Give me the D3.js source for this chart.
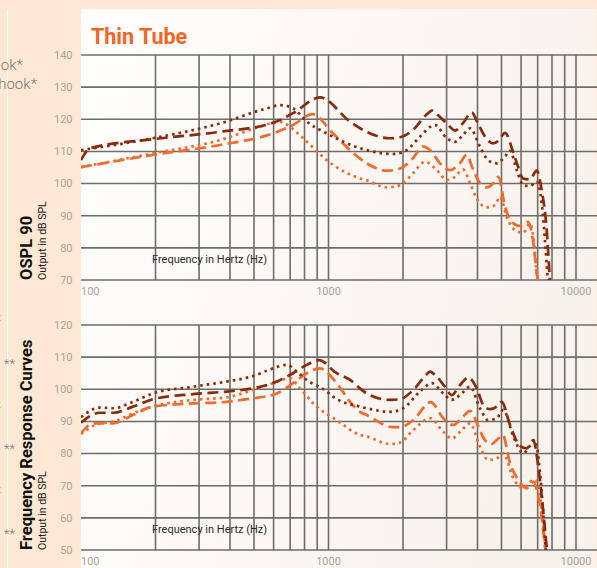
<!DOCTYPE html>
<html><head><meta charset="utf-8">
<script src="https://cdn.jsdelivr.net/npm/d3@7"></script>
<style>html,body{margin:0;padding:0;background:#fde8d3;overflow:hidden}</style>
</head><body>
<svg id="c" width="597" height="568"></svg>
<script>
// ---------- DATA ----------
const title = "Thin Tube";
const xTickLabels = [100, 1000, 10000];
const xGridValues = [200,300,400,500,600,700,800,900,1000,2000,3000,4000,5000,6000,7000,8000,9000,10000];
const osplYTicks = [70,80,90,100,110,120,130,140];
const frcYTicks = [50,60,70,80,90,100,110,120];

// OSPL 90 – dark red dashed
const osplDarkDashF = [100,109,195,364,597,719,924,1222,1426,1772,1945,2195,2500,2620,2760,3005,3245,3494,3791,4018,4288,4620,4887,5168,5566,5831,6108,6517,6936,7263,7614,7852];
const osplDarkDashV = [107.3,111,113.8,116.1,118.9,121.9,126.8,119.3,116.1,114.1,114.4,116.7,121.6,122.7,121.4,118.7,116.5,118.8,122.1,118.7,114.6,112.5,113.5,115.8,109.9,105.3,101.6,101.3,104.0,98,85.5,69];
// OSPL 90 – dark red dotted
const osplDarkDotF = [100,195,364,563,637,719,817,984,1340,1426,1822,2069,2341,2694,3005,3245,3494,3731,4093,4410,4786,5168,5411,5761,6124,6517,6936,7263,7700];
const osplDarkDotV = [110.4,114.1,118.7,123.4,124.4,123.4,119.3,115.6,111,110.4,109.2,110.4,114.6,118.2,114.1,113,115.1,117.2,111.5,107.3,106.3,108.4,110.2,104.2,99.5,99.2,100.6,94,69];
// OSPL 90 – orange dashed
const osplOrangeDashF = [100,195,364,597,719,860,1043,1222,1426,1718,1945,2195,2409,2612,2821,3097,3398,3617,3846,4093,4357,4634,4856,5168,5582,5940,6397,6700,6977,7050];
const osplOrangeDashV = [105.1,108.9,112,115.6,118.2,121.6,115.6,110.4,106.3,104,104.7,107.9,111.5,109.9,106.3,104.2,106.3,108.9,104.2,100.1,98.8,100.1,102.1,92.8,87.6,86.8,88.1,82.4,71,69];
// OSPL 90 – orange dotted
const osplOrangeDotF = [100,195,364,529,637,699,767,1043,1340,1426,1718,1945,2195,2454,2737,3005,3245,3494,3731,3970,4357,4710,4932,5248,5670,6124,6517,6721,6977,7050];
const osplOrangeDotV = [105.1,109.4,113.5,117.7,119.3,117.7,115,105.8,101.6,101,98.8,99.5,103.2,106.8,104.2,101.1,102.1,104.4,100.1,95.4,92.6,93.3,95.9,89.7,85.5,84.7,87.6,83.5,71,69];

// Frequency Response – dark red dashed
const frcDarkDashF = [100,119,135,162,195,284,388,495,618,719,817,915,1079,1222,1340,1426,1772,1945,2200,2480,2570,2680,2956,3146,3398,3671,3970,4222,4494,4786,5010,5411,5940,6320,6721,7042,7340,7650];
const frcDarkDashV = [89.6,92.7,92.7,94.6,96.9,98.5,99.3,100.3,102.4,105,107.6,109.1,105,102.9,100.3,98.7,96.7,96.9,99.8,104.5,105.5,104.6,100.8,98.2,101.3,103.7,100.3,95.1,93.8,94.6,96.1,88.9,82.4,81.6,84.2,75.9,63.5,49];
// Frequency Response – dark red dotted
const frcDarkDotF = [100,119,135,162,195,284,388,495,597,678,744,817,984,1043,1340,1426,1772,2005,2341,2612,2909,3146,3453,3731,4093,4422,4786,5087,5582,6124,6517,6830,7153,7560];
const frcDarkDotV = [91.3,94.3,94.1,96.1,98.7,100.8,102.4,104.1,106.5,107.6,105.5,102.9,99.3,97.7,94.6,94.1,93,94.1,99.3,101.9,98.7,96.7,98.7,100.8,94.1,90.4,91,93.6,85.3,80.1,82.4,84.2,73.9,49];
// Frequency Response – orange dashed
const frcOrangeDashF = [100,112,135,162,195,284,388,495,618,719,817,920,1079,1222,1340,1426,1827,1945,2200,2590,2909,3193,3453,3731,4030,4288,4564,4856,5057,5411,5848,6320,6721,7042,7550];
const frcOrangeDashV = [86.3,89.4,89.4,92,94.6,95.6,96.1,97.2,98.7,101.9,105,106.5,101.9,96.1,93,92,88.2,88.2,90.4,96,91,88.9,91,93.3,88.4,84.2,83,84.7,85.8,77,71.8,69.2,71.2,66.6,49];
// Frequency Response – orange dotted
const frcOrangeDotF = [100,119,135,162,195,284,388,495,597,699,767,868,1079,1340,1426,1772,1945,2200,2571,2909,3146,3453,3731,4093,4422,4786,5087,5582,6124,6517,6830,7153,7550];
const frcOrangeDotV = [86.1,89.4,89.9,92.5,94.6,96.7,97.5,99.8,101.9,103.4,100.3,95.6,90.4,85.8,85.3,83,83.4,87.3,91,86.8,84.7,87.3,89.4,82.1,78,78.5,80.1,72.3,69.2,71.2,71.8,66.6,49];

// ---------- STYLES ----------
const DARK = "#8a2a0c", ORANGE = "#f26a2c";
const styles = {
  darkDash:   {color: DARK,   dash: "11 5.5"},
  darkDot:    {color: DARK,   dash: "2.6 4"},
  orangeDash: {color: ORANGE, dash: "11 5.5"},
  orangeDot:  {color: ORANGE, dash: "2.6 4"}
};
const zip = (f, v) => f.map((d, i) => [d, v[i]]);

const svg = d3.select("#c");
const defs = svg.append("defs");
const grad = defs.append("linearGradient").attr("id","pg").attr("x1","0").attr("x2","1").attr("y1","0").attr("y2","0.3");
grad.append("stop").attr("offset","0").attr("stop-color","#fffefd");
grad.append("stop").attr("offset","1").attr("stop-color","#f8f2ec");

svg.append("rect").attr("width",597).attr("height",568).attr("fill","#fde8d3");
svg.append("line").attr("x1",7.5).attr("x2",7.5).attr("y1",9).attr("y2",568).attr("stroke","#ffffff").attr("stroke-width",1);
svg.append("rect").attr("x",81).attr("y",9).attr("width",515.5).attr("height",570).attr("fill","url(#pg)");

// left fragments of neighbouring panel
const frag = svg.append("g").attr("fill","#7a7672").attr("font-family","Roboto, sans-serif").attr("font-weight",300);
frag.append("text").attr("x",23).attr("y",70).attr("text-anchor","end").attr("font-size",15).text("ok*");
frag.append("text").attr("x",37).attr("y",89).attr("text-anchor","end").attr("font-size",15).text("hook*");
[363,448,533].forEach(y => frag.append("text").attr("x",15).attr("y",y+5).attr("text-anchor","end").attr("font-size",13).text("**"));
[318,405,490].forEach(y => frag.append("text").attr("x",-1).attr("y",y+3).attr("font-size",10).text(":"));

svg.append("text").attr("x",91).attr("y",43.5).attr("fill","#f26522")
  .attr("font-family","Roboto, sans-serif").attr("font-weight",700).attr("font-size",21.5).text(title);

const x = d3.scaleLog().domain([100,10000]).range([81,576]);

function panel(id, yTicks, yRange, series, mainLabel) {
  const y = d3.scaleLinear().domain([yTicks[0], yTicks[yTicks.length-1]]).range(yRange);
  const g = svg.append("g");
  defs.append("clipPath").attr("id","clip"+id).append("rect")
    .attr("x",81).attr("y",yRange[1]-10).attr("width",516).attr("height",yRange[0]-yRange[1]+10);
  // vertical grid
  g.selectAll("line.v").data(xGridValues).join("line")
    .attr("x1",d=>x(d)).attr("x2",d=>x(d)).attr("y1",yRange[1]).attr("y2",yRange[0])
    .attr("stroke","#6e6d67").attr("stroke-width",1.6);
  // horizontal grid
  g.selectAll("line.h").data(yTicks).join("line")
    .attr("x1",81).attr("x2",597).attr("y1",d=>y(d)).attr("y2",d=>y(d))
    .attr("stroke","#6e6d67").attr("stroke-width",1.6);
  // y tick labels
  g.selectAll("text.yt").data(yTicks).join("text")
    .attr("x",72.5).attr("y",d=>y(d)).attr("dy","0.35em").attr("text-anchor","end")
    .attr("fill","#aaa39b").attr("font-family","Roboto, sans-serif").attr("font-size",11).text(d=>d);
  // x tick labels
  g.selectAll("text.xt").data(xTickLabels).join("text")
    .attr("x",d=>d===100 ? 81 : x(d)).attr("y",yRange[0]+11).attr("dy","0.35em")
    .attr("text-anchor",d=>d===100 ? "start" : "middle")
    .attr("fill","#aaa39b").attr("font-family","Roboto, sans-serif").attr("font-size",11).text(d=>d);
  // x axis title inside plot
  g.append("text").attr("x",152).attr("y",yRange[0]-21).attr("dy","0.35em")
    .attr("fill","#2b2b2b").attr("font-family","Roboto, sans-serif").attr("font-size",11).text("Frequency in Hertz (Hz)");
  // rotated labels
  g.append("text").attr("transform",`translate(31.5,${yRange[0]}) rotate(-90)`)
    .attr("fill","#111").attr("font-family","Roboto, sans-serif").attr("font-weight",700).attr("font-size",16.5).text(mainLabel);
  g.append("text").attr("transform",`translate(45.5,${yRange[0]}) rotate(-90)`)
    .attr("fill","#222").attr("font-family","Roboto, sans-serif").attr("font-size",10.5).text("Output in dB SPL");
  // curves
  const line = d3.line().x(d=>x(d[0])).y(d=>y(d[1])).curve(d3.curveMonotoneX);
  const cg = g.append("g").attr("clip-path",`url(#clip${id})`);
  series.forEach(s => {
    cg.append("path").attr("d", line(s.data)).attr("fill","none")
      .attr("stroke", s.style.color).attr("stroke-width",2.7)
      .attr("stroke-dasharray", s.style.dash).attr("stroke-linejoin","round");
  });
}

panel("top", osplYTicks, [280,55], [
  {data: zip(osplOrangeDotF, osplOrangeDotV), style: styles.orangeDot},
  {data: zip(osplOrangeDashF, osplOrangeDashV), style: styles.orangeDash},
  {data: zip(osplDarkDotF, osplDarkDotV), style: styles.darkDot},
  {data: zip(osplDarkDashF, osplDarkDashV), style: styles.darkDash}
], "OSPL 90");

panel("bot", frcYTicks, [550,325], [
  {data: zip(frcOrangeDotF, frcOrangeDotV), style: styles.orangeDot},
  {data: zip(frcOrangeDashF, frcOrangeDashV), style: styles.orangeDash},
  {data: zip(frcDarkDotF, frcDarkDotV), style: styles.darkDot},
  {data: zip(frcDarkDashF, frcDarkDashV), style: styles.darkDash}
], "Frequency Response Curves");
</script>
</body></html>
